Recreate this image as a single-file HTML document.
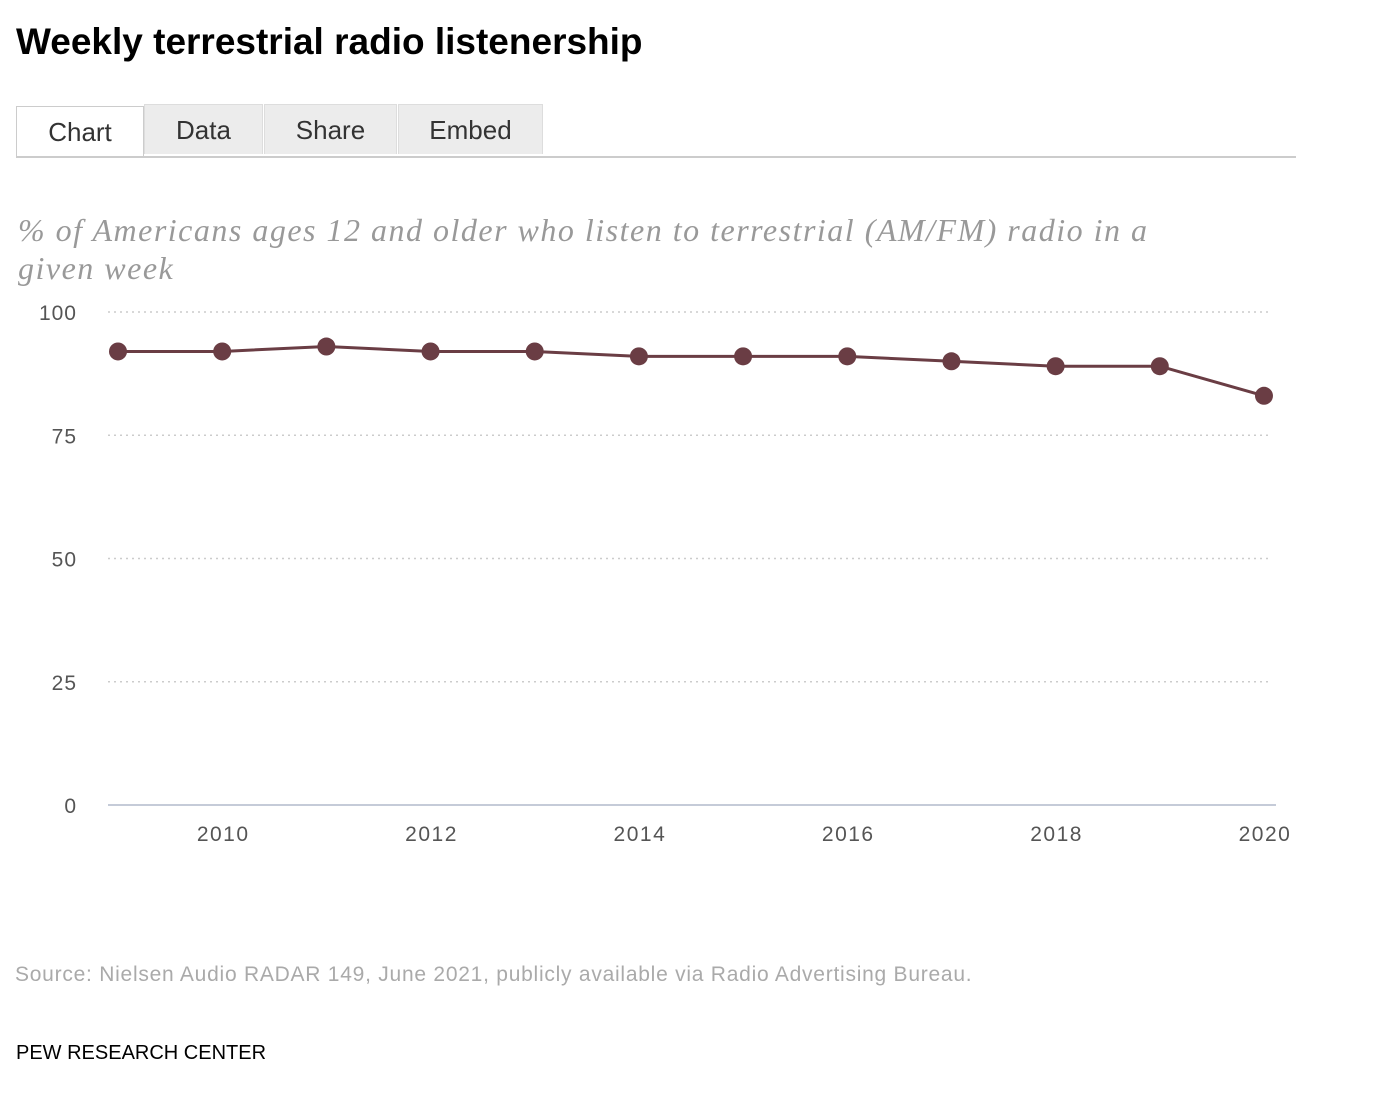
<!DOCTYPE html>
<html><head><meta charset="utf-8"><style>
body{margin:0;width:1392px;height:1093px;background:#fff;font-family:"Liberation Sans",sans-serif;position:relative;overflow:hidden}
.abs{position:absolute}
#title{left:16px;top:21px;font-size:37px;font-weight:bold;color:#000;letter-spacing:0px}
.tab{position:absolute;top:104px;height:50px;background:#ececec;border:1px solid #ddd;border-bottom:none;font-size:26px;color:#333;text-align:center;line-height:50px;box-sizing:border-box}
#subtitle{left:18px;top:211px;font-family:"Liberation Serif",serif;font-style:italic;font-size:32px;line-height:38px;color:#999;width:1160px;letter-spacing:1.5px}
#source{left:15px;top:963px;font-size:21px;color:#aaa;letter-spacing:0.75px}
#pew{left:16px;top:1042px;font-size:20px;color:#000}
</style></head><body>
<div id="title" class="abs">Weekly terrestrial radio listenership</div>
<div class="tab" style="left:16px;width:128px;top:106px;height:52px;background:#fff;border:1px solid #ccc;border-bottom:none;line-height:50px">Chart</div>
<div class="tab" style="left:144px;width:119px">Data</div>
<div class="tab" style="left:264px;width:133px">Share</div>
<div class="tab" style="left:398px;width:145px">Embed</div>
<div class="abs" style="left:16px;top:156px;width:1280px;height:2px;background:#ccc"></div>
<div id="subtitle" class="abs">% of Americans ages 12 and older who listen to terrestrial (AM/FM) radio in a given week</div>
<svg class="abs" style="left:0;top:0" width="1392" height="1093">
<g id="grid"></g><g id="axes"></g><g id="series"></g>
</svg>
<div id="source" class="abs">Source: Nielsen Audio RADAR 149, June 2021, publicly available via Radio Advertising Bureau.</div>
<div id="pew" class="abs">PEW RESEARCH CENTER</div>
<script>
const years=[2009,2010,2011,2012,2013,2014,2015,2016,2017,2018,2019,2020];
const values=[92,92,93,92,92,91,91,91,90,89,89,83];
const yTicks=[0,25,50,75,100];
const xTicks=[2010,2012,2014,2016,2018,2020];
const NS="http://www.w3.org/2000/svg";
const x=v=>118+(v-2009)*104.18;
const y=v=>805-v*4.93;
function mk(t,a,p){const e=document.createElementNS(NS,t);for(const k in a)e.setAttribute(k,a[k]);p.appendChild(e);return e;}
const grid=document.getElementById('grid'),axes=document.getElementById('axes'),ser=document.getElementById('series');
yTicks.forEach(v=>{
 if(v>0){const l=mk('line',{x1:108,x2:1272,y1:y(v),y2:y(v),stroke:'#ccc','stroke-width':1.5,'stroke-dasharray':'2,4'},grid);
 }
 const t=mk('text',{x:77,y:y(v)+8,'text-anchor':'end','font-size':21,fill:'#555','font-family':'Liberation Sans, sans-serif','letter-spacing':'1'},axes);
 t.textContent=v;
});
const base=mk('line',{x1:108,x2:1276,y1:805,y2:805,stroke:'#c5cbd8','stroke-width':2},axes);

xTicks.forEach(v=>{
 const t=mk('text',{x:x(v)+1,y:841,'text-anchor':'middle','font-size':21,fill:'#555','font-family':'Liberation Sans, sans-serif','letter-spacing':'1.5'},axes);
 t.textContent=v;
});
const pl=mk('polyline',{points:years.map((d,i)=>x(d)+','+y(values[i])).join(' '),fill:'none',stroke:'#6a3d44','stroke-width':3},ser);

years.forEach((d,i)=>{
 const c=mk('circle',{cx:x(d),cy:y(values[i]),r:9,fill:'#6a3d44'},ser);
 
});
</script>
</body></html>
